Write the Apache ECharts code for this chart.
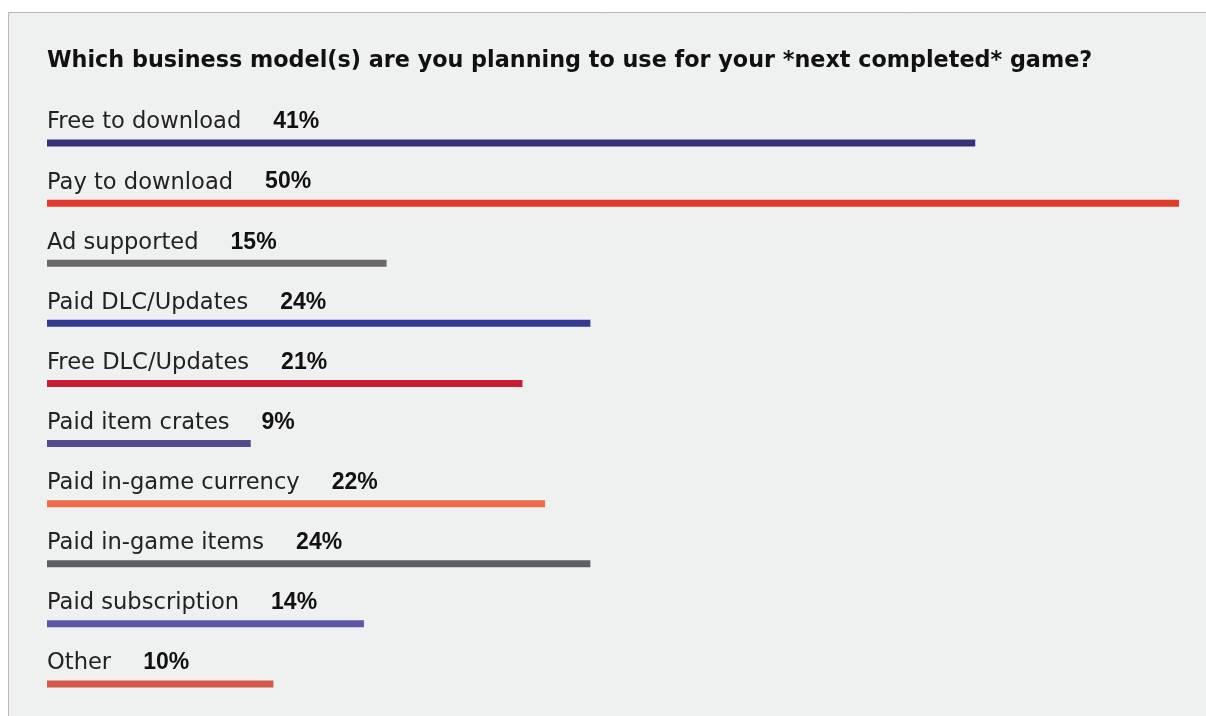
<!DOCTYPE html>
<html>
<head>
<meta charset="utf-8">
<script src="https://cdn.jsdelivr.net/npm/echarts@6/dist/echarts.min.js"></script>
<style>
  html, body { margin: 0; padding: 0; background: #ffffff; }
  #chart { width: 1206px; height: 716px; }
</style>
</head>
<body>
<div id="chart"></div>
<script>
var titleText = 'Which business model(s) are you planning to use for your *next completed* game?';
var categories = ['Free to download', 'Pay to download', 'Ad supported', 'Paid DLC/Updates', 'Free DLC/Updates',
  'Paid item crates', 'Paid in-game currency', 'Paid in-game items', 'Paid subscription', 'Other'];
var values = [41, 50, 15, 24, 21, 9, 22, 24, 14, 10];
var barColors = ['#35327a', '#e33b2b', '#68686b', '#343a94', '#c81e33',
  '#544a91', '#ec6b48', '#5e5f63', '#5d57ab', '#d4574a'];

var chart = echarts.init(document.getElementById('chart'));

// 每一项：名称 + 粗体百分比
var data = values.map(function(v, i) {
  return { value: v, itemStyle: { color: barColors[i] } };
});

chart.setOption({
  animation: false,
  backgroundColor: '#ffffff',
  graphic: [{
    type: 'rect',
    z: -10,
    shape: { x: 8.5, y: 12.5, width: 1400, height: 900 },
    style: { fill: '#eff0f0', stroke: '#b9b9b9', lineWidth: 1 }
  }],
  title: {
    text: titleText,
    left: 47,
    top: 50,
    padding: 0,
    textStyle: { fontFamily: 'DejaVu Sans', fontWeight: 'bold', fontSize: 22.3, color: '#111111' }
  },
  grid: { left: 47, right: 27, top: 113, bottom: 2, containLabel: false },
  xAxis: {
    type: 'value', min: 0, max: 50,
    show: false
  },
  yAxis: {
    type: 'category', data: categories, inverse: true,
    show: false
  },
  series: [{
    type: 'bar',
    data: data,
    barWidth: 7,
    label: {
      show: true,
      position: [0, -3],
      verticalAlign: 'bottom',
      align: 'left',
      formatter: function(p) {
        return '{n|' + categories[p.dataIndex] + '}{v|' + values[p.dataIndex] + '%}';
      },
      rich: {
        n: { fontFamily: 'DejaVu Sans', fontSize: 22.6, lineHeight: 28, color: '#222222', padding: [0, 32, 0, 0] },
        v: { fontFamily: 'Liberation Sans', fontSize: 23, lineHeight: 28, fontWeight: 'bold', color: '#111111', padding: [0, 0, 1, 0] }
      }
    }
  }]
});
</script>
</body>
</html>
